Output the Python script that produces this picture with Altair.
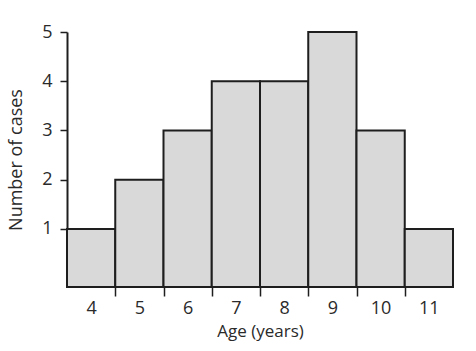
import altair as alt
import pandas as pd

ages = [4, 5, 6, 7, 8, 9, 10, 11]
cases = [1, 2, 3, 4, 4, 5, 3, 1]
boundary_ticks = [4.5, 5.5, 6.5, 7.5, 8.5, 9.5, 10.5]
y_ticks = [1, 2, 3, 4, 5]

df = pd.DataFrame({"age": ages, "cases": cases})

W, H = 386, 255
FONT = "Open Sans"
INK = "#1e1e1e"
TXT = "#2a2a2a"
xdom = [3.5, 11.5]

base = alt.Chart(df)

bars = base.transform_calculate(
    lo="datum.age - 0.5", hi="datum.age + 0.5"
).mark_bar(fill="#d9d9d9", stroke=INK, strokeWidth=2).encode(
    x=alt.X("lo:Q", scale=alt.Scale(domain=xdom, nice=False, zero=False),
            axis=alt.Axis(values=boundary_ticks, labels=False, tickSize=9,
                          tickColor=INK, tickWidth=1.5, domain=False,
                          grid=False, title=None, orient="bottom")),
    x2="hi:Q",
    y=alt.Y("cases:Q", scale=alt.Scale(domain=[-0.18, 5], nice=False, zero=False),
            axis=alt.Axis(values=y_ticks, tickSize=7, tickColor=INK, tickWidth=1.5,
                          domainColor=INK, domainWidth=2, labelPadding=8,
                          labelFont=FONT, labelFontSize=18, labelColor=TXT,
                          title="Number of cases", titleFont=FONT, titleFontSize=18,
                          titleFontWeight="normal", titleColor=TXT, titlePadding=16,
                          grid=False)),
    y2=alt.value(H),
)

labels = base.mark_point(opacity=0).encode(
    x=alt.X("age:Q", scale=alt.Scale(domain=xdom, nice=False, zero=False),
            axis=alt.Axis(values=ages, ticks=False, domain=False, grid=False,
                          labelPadding=12, labelFont=FONT, labelFontSize=18,
                          labelColor=TXT, title="Age (years)", titleFont=FONT,
                          titleFontSize=17, titleFontWeight="normal",
                          titleColor=TXT, titlePadding=6, orient="bottom")),
)

chart = alt.layer(bars, labels).resolve_scale(x="independent").resolve_axis(
    x="independent"
).properties(
    width=W, height=H,
    autosize=alt.AutoSizeParams(type="none"),
    padding={"left": 67, "top": 32, "right": 23, "bottom": 64},
    background="white",
).configure_view(stroke=None)

chart.save("out.html", embed_options={"renderer": "svg", "actions": False})
